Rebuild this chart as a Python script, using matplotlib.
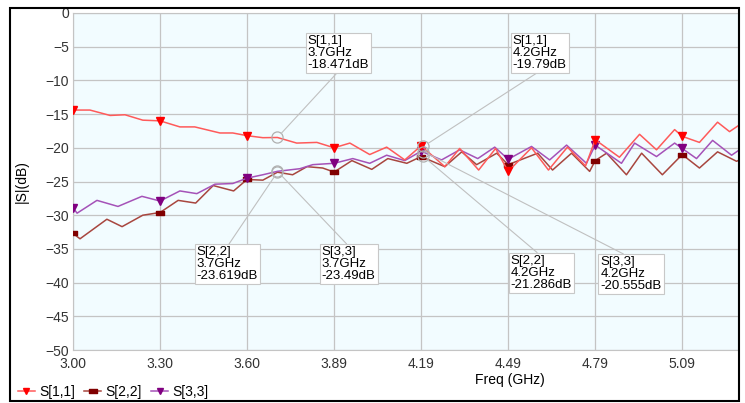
import numpy as np
import matplotlib.pyplot as plt
from matplotlib.patches import Rectangle
from matplotlib.path import Path

plt.rcParams['font.family'] = ['Liberation Sans', 'DejaVu Sans']

# frequency (GHz) / magnitude (dB)
f11 = [3.000, 3.058, 3.127, 3.178, 3.239, 3.298, 3.366, 3.417, 3.503, 3.547,
       3.596, 3.650, 3.700, 3.766, 3.835, 3.894, 3.948, 4.016, 4.074, 4.136,
       4.192, 4.273, 4.324, 4.389, 4.447, 4.490, 4.570, 4.628, 4.693, 4.755,
       4.788, 4.871, 4.940, 4.998, 5.060, 5.086, 5.145, 5.207, 5.248, 5.282]
s11 = [-14.4, -14.4, -15.2, -15.1, -15.9, -16.0, -16.9, -16.9, -17.8, -17.8,
       -18.2, -18.5, -18.47, -19.3, -19.2, -20.0, -19.3, -21.0, -19.9, -21.8,
       -19.7, -22.8, -20.1, -23.3, -20.1, -23.5, -20.0, -23.3, -19.9, -22.7,
       -18.8, -21.4, -18.0, -20.3, -17.3, -18.3, -19.2, -16.2, -17.6, -16.6]

f22 = [3.000, 3.024, 3.116, 3.168, 3.239, 3.298, 3.360, 3.420, 3.480, 3.550,
       3.596, 3.650, 3.700, 3.752, 3.801, 3.855, 3.894, 3.955, 4.023, 4.078,
       4.143, 4.192, 4.273, 4.331, 4.382, 4.451, 4.490, 4.591, 4.642, 4.707,
       4.769, 4.788, 4.827, 4.895, 4.947, 5.018, 5.086, 5.145, 5.207, 5.272,
       5.282]
s22 = [-32.7, -33.5, -30.6, -31.7, -30.0, -29.6, -27.8, -28.2, -25.6, -26.4,
       -24.7, -24.8, -23.62, -24.0, -22.8, -23.0, -23.6, -21.9, -23.2, -21.6,
       -22.3, -21.3, -22.8, -20.6, -22.5, -20.8, -22.5, -20.8, -23.3, -20.8,
       -23.5, -21.9, -20.8, -24.0, -20.8, -24.0, -21.0, -23.0, -20.6, -22.0,
       -21.8]

f33 = [3.000, 3.014, 3.082, 3.154, 3.236, 3.298, 3.366, 3.424, 3.486, 3.547,
       3.596, 3.650, 3.700, 3.777, 3.821, 3.894, 3.958, 4.016, 4.074, 4.136,
       4.192, 4.262, 4.324, 4.386, 4.444, 4.490, 4.570, 4.632, 4.690, 4.758,
       4.788, 4.878, 4.923, 4.998, 5.060, 5.086, 5.135, 5.190, 5.255, 5.282]
s33 = [-28.9, -29.7, -27.8, -28.7, -27.2, -27.9, -26.4, -26.8, -25.4, -25.3,
       -24.5, -24.0, -23.49, -23.1, -22.5, -22.3, -21.6, -22.3, -21.1, -21.9,
       -20.5, -21.8, -20.3, -21.6, -19.9, -21.7, -19.8, -21.8, -19.6, -22.3,
       -19.6, -22.3, -19.3, -21.3, -19.3, -20.1, -21.6, -18.9, -21.1, -20.3]

# x ticks (marker positions) and their labels
xticks = [3.000, 3.298, 3.596, 3.894, 4.192, 4.490, 4.788, 5.086]
xlabels = ['3.00', '3.30', '3.60', '3.89', '4.19', '4.49', '4.79', '5.09']

# marker readouts: name, freq, value, text position, leader attach point
readouts = [
    ('S[1,1]', 3.7, -18.471, (3.804, -3.3), (0.5, 0.0)),
    ('S[1,1]', 4.2, -19.79, (4.505, -3.3), (0.5, 0.0)),
    ('S[2,2]', 3.7, -23.619, (3.424, -34.6), (0.5, 1.0)),
    ('S[3,3]', 3.7, -23.49, (3.852, -34.6), (0.5, 1.0)),
    ('S[2,2]', 4.2, -21.286, (4.498, -35.9), (0.48, 1.0)),
    ('S[3,3]', 4.2, -20.555, (4.806, -36.1), (0.45, 1.0)),
]

bar = Path([(-1, -0.45), (1, -0.45), (1, 0.45), (-1, 0.45), (-1, -0.45)],
           [Path.MOVETO, Path.LINETO, Path.LINETO, Path.LINETO, Path.CLOSEPOLY])

fig = plt.figure(figsize=(7.45, 4.03), dpi=100)
ax = fig.add_axes([73/745, 53/403, 665/745, 337/403])
ax.set_facecolor('#f2fcff')

def marks(f):
    return [i for i, v in enumerate(f) if np.any(np.isclose(v, xticks))]

ax.plot(f11, s11, color='#ff5a5a', lw=1.1, marker='v', ms=5.5,
        mfc='#ff0000', mec='#ff0000', markevery=marks(f11), label='S[1,1]', zorder=4)
ax.plot(f22, s22, color='#a8463f', lw=1.1, marker=bar, ms=6,
        mfc='#800000', mec='#800000', markevery=marks(f22), label='S[2,2]', zorder=3)
ax.plot(f33, s33, color='#a552b8', lw=1.1, marker='v', ms=5.5,
        mfc='#800080', mec='#800080', markevery=marks(f33), label='S[3,3]', zorder=3)

for name, fr, val, pos, rel in readouts:
    ax.plot(fr, val, 'o', ms=8, mfc='none', mec='#b0b0b0', mew=0.9, zorder=5)
    ax.annotate('%s\n%gGHz\n%gdB' % (name, fr, val), xy=(fr, val), xytext=pos,
                ha='left', va='top', fontsize=9.5, linespacing=1.0, zorder=6,
                bbox=dict(boxstyle='square,pad=0.15', fc='white', ec='#c8c8c8', lw=0.8),
                arrowprops=dict(arrowstyle='-', color='#c0c0c0', lw=0.8,
                                shrinkA=0, shrinkB=4, relpos=rel))

ax.set_xlim(3.0, 5.277)
ax.set_ylim(-50, 0)
ax.set_xticks(xticks)
ax.set_xticklabels(xlabels)
ax.set_yticks(np.arange(-50, 1, 5))
ax.tick_params(length=0, labelsize=10, colors='#333333')
ax.tick_params(axis='x', pad=5)
ax.tick_params(axis='y', pad=3)
ax.grid(True, color='#c4c4c4', lw=0.9)
for sp in ax.spines.values():
    sp.set_color('#c4c4c4')

ax.set_ylabel('|S|(dB)', fontsize=10)
ax.yaxis.set_label_coords(-0.066, 0.5)
ax.set_xlabel('Freq (GHz)', fontsize=10)
ax.xaxis.set_label_coords((510 - 73) / 665, -0.068)

fig.legend(loc='center left', bbox_to_anchor=(18/745, 11/403), ncol=3,
           frameon=False, fontsize=10, handlelength=1.2, handletextpad=0.3,
           columnspacing=0.7, borderpad=0, borderaxespad=0, markerscale=0.85)

fig.patches.append(Rectangle((10/745, 2/403), 729/745, 393/403, transform=fig.transFigure,
                             fill=False, ec='black', lw=1.5))

fig.savefig('out.png', dpi=100)
